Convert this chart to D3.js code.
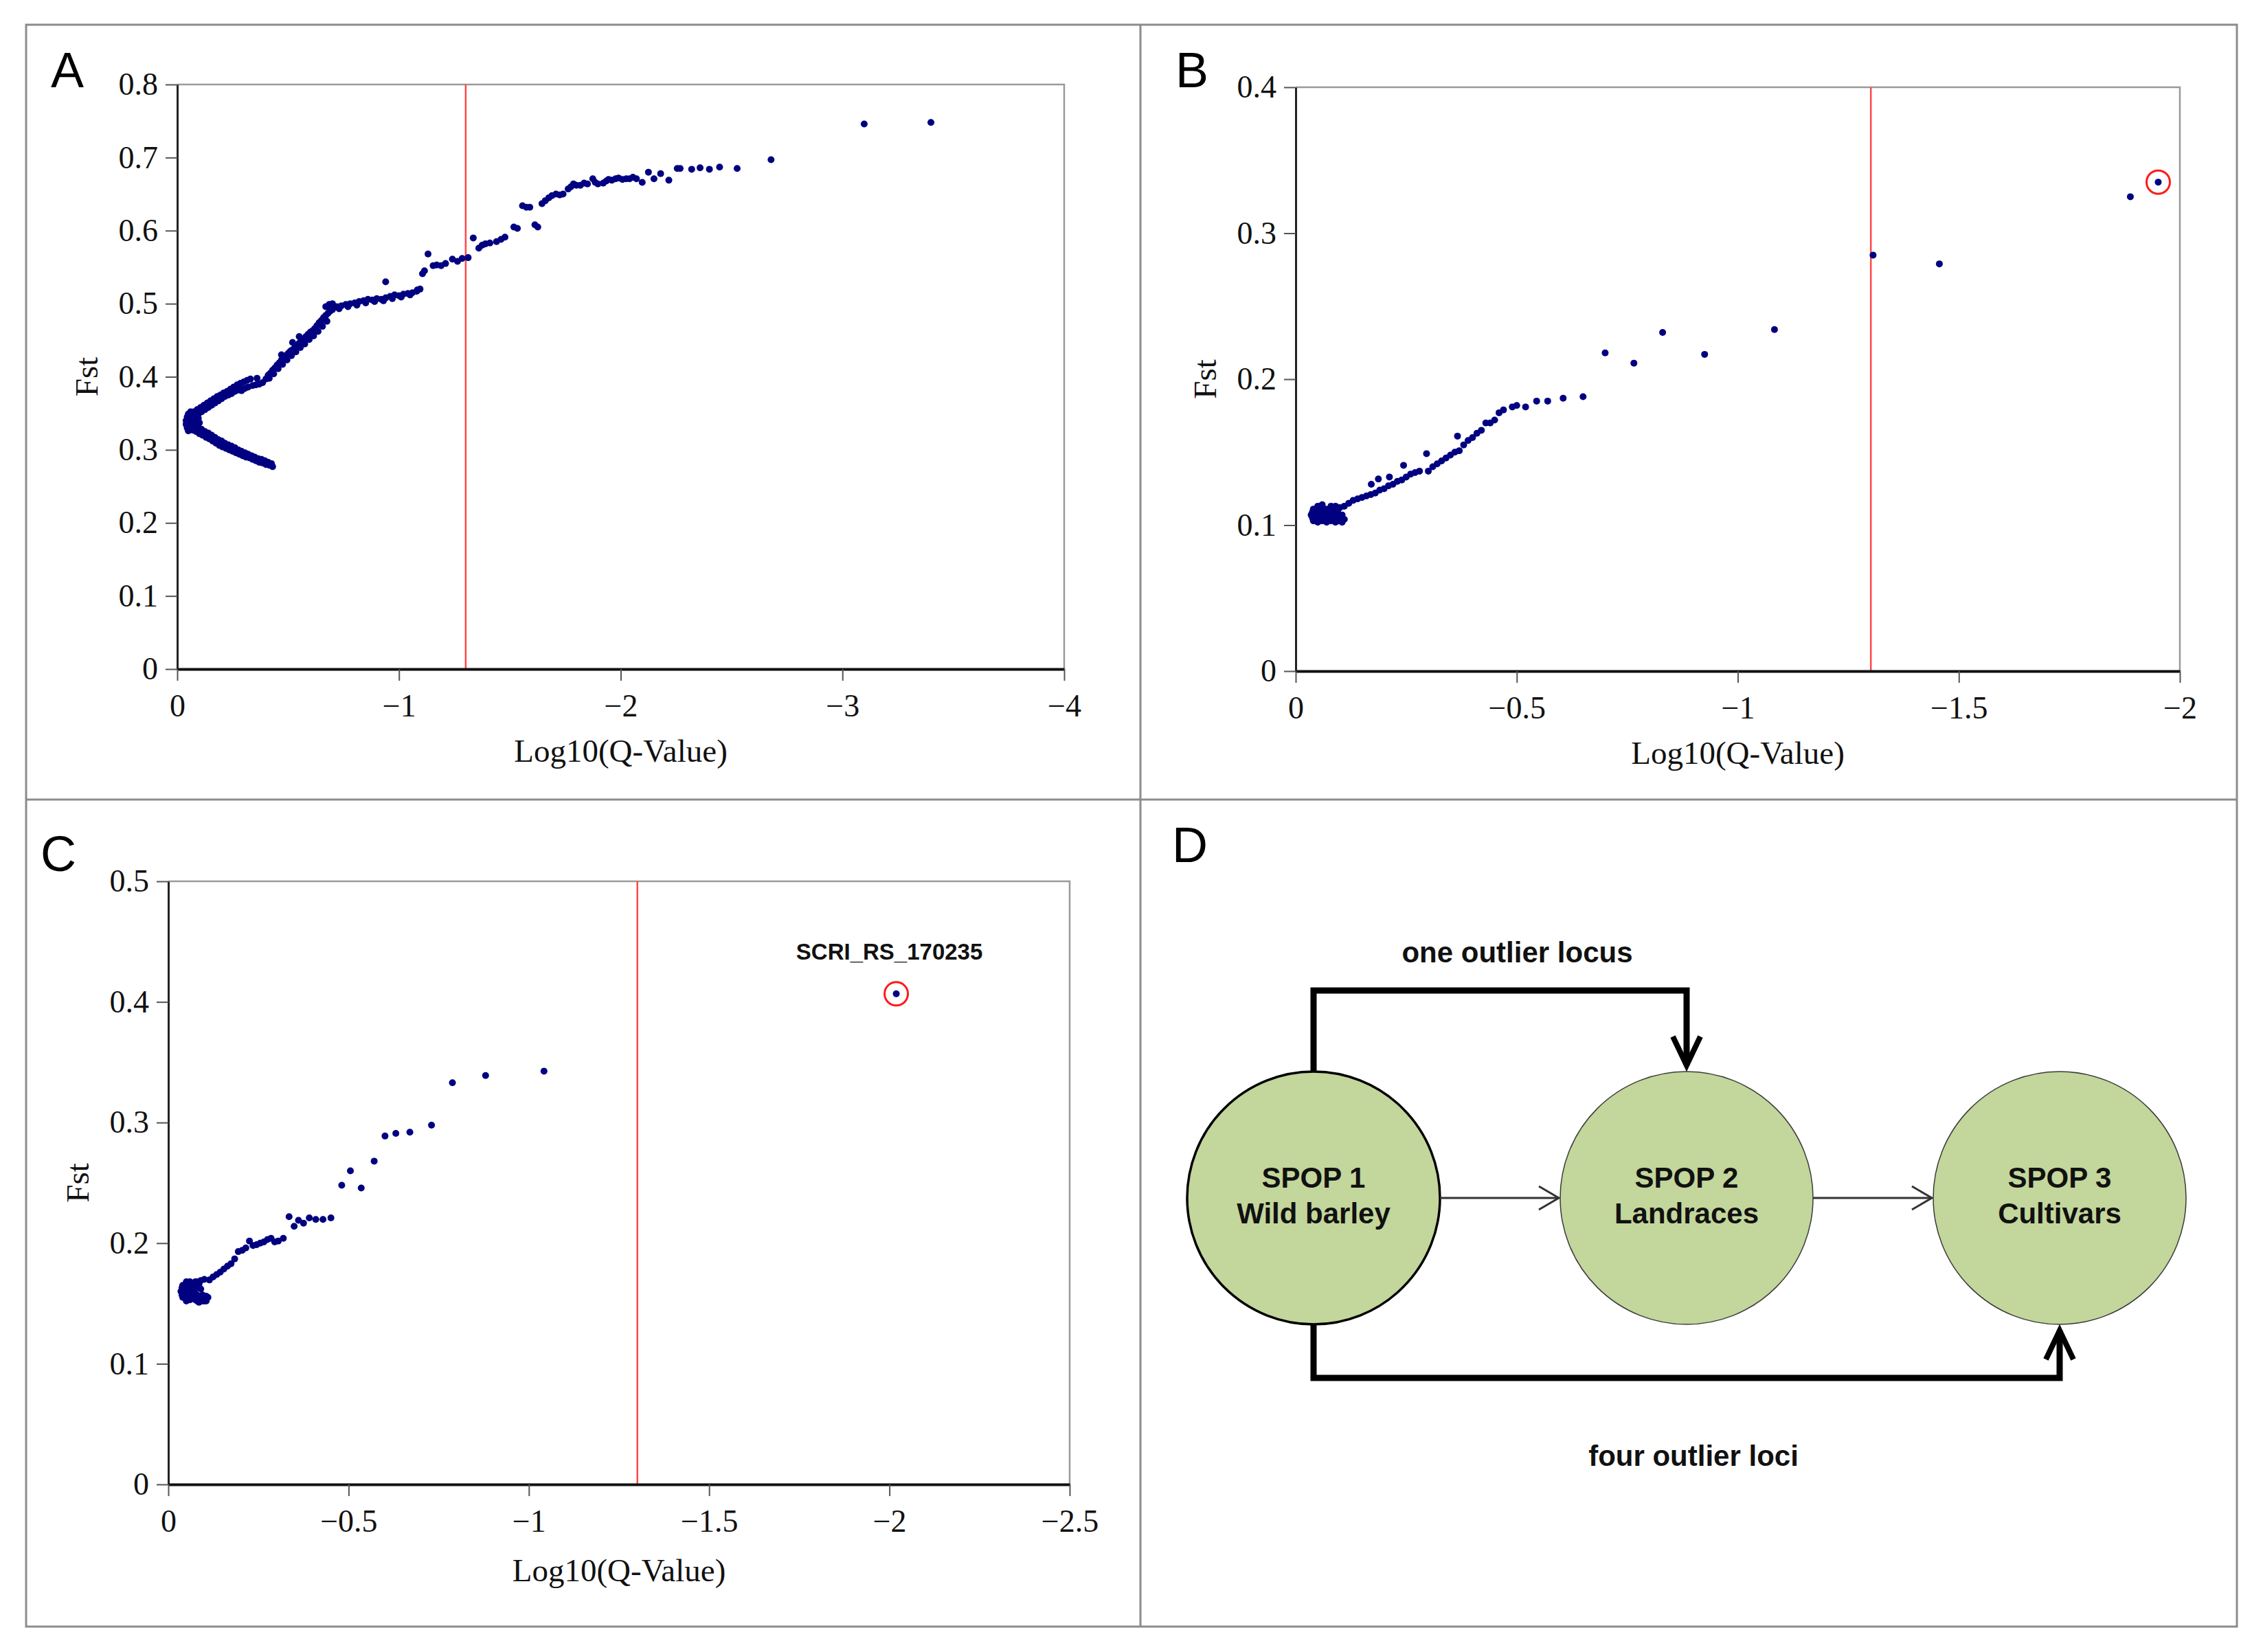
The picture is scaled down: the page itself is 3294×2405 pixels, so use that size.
<!DOCTYPE html>
<html>
<head>
<meta charset="utf-8">
<script src="https://cdn.jsdelivr.net/npm/d3@7"></script>
<style>body{margin:0;background:#fff}</style>
</head>
<body>
<script>
// ---- data: [log10(q), Fst] ----
var ptsA = [
 // lower branch (two rows of the thick band)
 [-0.425,0.281],[-0.41,0.283],[-0.395,0.285],[-0.38,0.287],[-0.365,0.288],[-0.35,0.290],[-0.335,0.292],[-0.32,0.294],[-0.305,0.296],[-0.29,0.298],[-0.275,0.300],[-0.26,0.303],[-0.245,0.305],[-0.23,0.307],[-0.215,0.309],[-0.2,0.312],[-0.185,0.314],[-0.17,0.317],[-0.155,0.320],[-0.14,0.323],[-0.125,0.325],[-0.11,0.328],[-0.095,0.331],[-0.08,0.333],[-0.065,0.336],
 [-0.43,0.277],[-0.415,0.279],[-0.40,0.280],[-0.385,0.282],[-0.37,0.283],[-0.355,0.285],[-0.34,0.287],[-0.325,0.289],[-0.31,0.290],[-0.295,0.292],[-0.28,0.294],[-0.265,0.296],[-0.25,0.298],[-0.235,0.300],[-0.22,0.302],[-0.205,0.304],[-0.19,0.306],[-0.175,0.309],[-0.16,0.312],[-0.145,0.315],[-0.13,0.317],[-0.115,0.320],[-0.10,0.322],[-0.085,0.325],[-0.07,0.327],
 [-0.18,0.311],[-0.15,0.317],[-0.12,0.322],[-0.09,0.328],
 // nose
 [-0.04,0.335],[-0.04,0.340],[-0.045,0.330],[-0.045,0.345],[-0.05,0.326],[-0.05,0.349],[-0.055,0.332],[-0.055,0.338],[-0.055,0.343],[-0.06,0.328],[-0.06,0.352],[-0.065,0.345],[-0.07,0.340],[-0.07,0.334],
 [-0.045,0.337],[-0.05,0.333],[-0.05,0.341],[-0.06,0.336],[-0.06,0.344],[-0.065,0.331],[-0.065,0.350],[-0.075,0.338],[-0.075,0.345],[-0.08,0.331],[-0.085,0.349],[-0.09,0.334],[-0.095,0.343],[-0.08,0.341],[-0.1,0.337],
 // upper branch
 [-0.075,0.352],[-0.09,0.355],[-0.105,0.358],[-0.12,0.361],[-0.135,0.364],[-0.15,0.367],[-0.165,0.370],[-0.18,0.373],[-0.195,0.375],[-0.21,0.378],[-0.225,0.380],[-0.24,0.383],[-0.255,0.386],[-0.27,0.389],[-0.285,0.391],[-0.30,0.393],[-0.315,0.395],[-0.33,0.397],
 [-0.08,0.346],[-0.095,0.349],[-0.11,0.352],[-0.125,0.355],[-0.14,0.358],[-0.155,0.361],[-0.17,0.364],[-0.185,0.367],[-0.20,0.370],[-0.215,0.373],[-0.23,0.375],[-0.245,0.377],[-0.26,0.380],[-0.275,0.382],[-0.29,0.381],[-0.305,0.384],[-0.32,0.386],[-0.34,0.388],[-0.355,0.389],[-0.37,0.390],[-0.385,0.392],
 [-0.36,0.398],[-0.12,0.357],[-0.16,0.365],[-0.2,0.374],[-0.24,0.380],[-0.28,0.386],
 // rise
 [-0.40,0.397],[-0.41,0.402],[-0.42,0.405],[-0.43,0.409],[-0.44,0.412],[-0.45,0.416],[-0.46,0.419],[-0.47,0.423],[-0.48,0.426],[-0.49,0.429],[-0.50,0.432],[-0.51,0.435],[-0.52,0.437],[-0.53,0.440],[-0.54,0.443],[-0.55,0.446],[-0.56,0.449],[-0.57,0.452],[-0.58,0.455],[-0.59,0.458],[-0.60,0.461],[-0.61,0.463],[-0.62,0.466],[-0.63,0.470],[-0.64,0.474],[-0.65,0.477],[-0.66,0.481],[-0.67,0.484],[-0.68,0.487],[-0.69,0.490],[-0.70,0.492],
 [-0.415,0.398],[-0.435,0.404],[-0.455,0.411],[-0.475,0.417],[-0.495,0.423],[-0.515,0.429],[-0.535,0.434],[-0.555,0.440],[-0.575,0.445],[-0.595,0.451],[-0.615,0.456],[-0.635,0.462],[-0.655,0.469],[-0.675,0.476],
 [-0.47,0.430],[-0.52,0.447],[-0.55,0.455],[-0.67,0.496],[-0.685,0.499],[-0.70,0.500],
 // plateau near 0.5
 [-0.72,0.496],[-0.74,0.497],[-0.76,0.499],[-0.78,0.500],[-0.80,0.501],[-0.82,0.503],[-0.84,0.504],[-0.86,0.506],[-0.88,0.505],[-0.90,0.507],[-0.92,0.506],[-0.94,0.508],[-0.96,0.510],[-0.98,0.512],[-1.00,0.511],[-1.02,0.513],[-1.04,0.514],[-1.06,0.515],[-1.08,0.517],[-1.095,0.520],
 [-0.73,0.493],[-0.77,0.496],[-0.81,0.498],[-0.85,0.501],[-0.89,0.503],[-0.93,0.504],[-0.97,0.507],[-1.01,0.509],[-1.05,0.512],[-0.94,0.530],
 // beyond
 [-1.083,0.519],[-1.106,0.541],[-1.131,0.568],[-1.115,0.545],[-1.154,0.552],[-1.17,0.553],[-1.19,0.552],[-1.21,0.555],[-1.241,0.561],[-1.264,0.558],[-1.285,0.562],[-1.312,0.563],[-1.335,0.590],[-1.36,0.576],[-1.375,0.580],[-1.39,0.582],[-1.41,0.583],[-1.44,0.585],[-1.46,0.588],[-1.478,0.591],[-1.518,0.605],[-1.534,0.603],[-1.557,0.634],[-1.575,0.632],[-1.59,0.632],[-1.613,0.608],[-1.626,0.605],[-1.645,0.637],[-1.66,0.641],[-1.676,0.645],[-1.69,0.648],[-1.708,0.650],[-1.725,0.649],[-1.74,0.650],[-1.763,0.657],[-1.775,0.660],[-1.787,0.664],[-1.80,0.662],[-1.818,0.662],[-1.835,0.665],[-1.85,0.664],[-1.874,0.671],[-1.885,0.666],[-1.897,0.664],[-1.921,0.665],[-1.935,0.668],[-1.945,0.670],[-1.96,0.669],[-1.977,0.671],[-1.99,0.672],[-2.008,0.670],[-2.025,0.671],[-2.04,0.671],[-2.055,0.673],[-2.071,0.671],[-2.097,0.666],[-2.125,0.680],[-2.15,0.671],[-2.18,0.678],[-2.217,0.669],[-2.255,0.685],[-2.268,0.685],[-2.32,0.684],[-2.358,0.686],[-2.40,0.684],[-2.446,0.687],[-2.525,0.685],[-2.678,0.697],[-3.098,0.746],[-3.399,0.748]
];
var ptsB = [
 // blob
 [-0.035,0.107],[-0.04,0.103],[-0.04,0.111],[-0.045,0.107],[-0.05,0.102],[-0.05,0.113],[-0.055,0.106],[-0.055,0.110],[-0.06,0.103],[-0.06,0.114],[-0.065,0.108],[-0.07,0.102],[-0.07,0.111],[-0.075,0.105],[-0.08,0.103],[-0.08,0.113],[-0.085,0.108],[-0.09,0.102],[-0.095,0.110],[-0.10,0.103],[-0.105,0.107],[-0.11,0.104],[-0.10,0.112],
 [-0.038,0.105],[-0.038,0.109],[-0.045,0.103],[-0.045,0.111],[-0.05,0.105],[-0.05,0.109],[-0.06,0.107],[-0.06,0.111],[-0.065,0.104],[-0.07,0.106],[-0.075,0.109],[-0.08,0.106],[-0.085,0.104],[-0.085,0.111],[-0.09,0.106],[-0.095,0.103],[-0.1,0.106],[-0.105,0.102],[-0.09,0.113],
 // trail
 [-0.11,0.113],[-0.12,0.115],[-0.13,0.117],[-0.14,0.118],[-0.15,0.119],[-0.16,0.120],[-0.171,0.128],[-0.17,0.121],[-0.18,0.122],[-0.187,0.1316],[-0.19,0.124],[-0.20,0.125],[-0.212,0.133],[-0.21,0.127],[-0.22,0.128],[-0.23,0.130],[-0.244,0.141],[-0.24,0.131],[-0.25,0.133],[-0.26,0.135],[-0.27,0.136],[-0.28,0.137],[-0.296,0.149],[-0.30,0.137],
 [-0.31,0.140],[-0.32,0.142],[-0.33,0.144],[-0.34,0.146],[-0.35,0.148],[-0.36,0.150],[-0.37,0.151],[-0.366,0.161],[-0.38,0.155],[-0.39,0.158],[-0.40,0.160],[-0.41,0.163],[-0.42,0.165],[-0.43,0.170],[-0.44,0.170],[-0.45,0.172],[-0.46,0.177],[-0.47,0.179],[-0.49,0.181],[-0.50,0.182],[-0.52,0.181],[-0.545,0.185],[-0.57,0.185],[-0.605,0.187],[-0.65,0.188],
 [-0.70,0.218],[-0.765,0.211],[-0.83,0.232],[-0.925,0.217],[-1.083,0.234],[-1.306,0.285],[-1.456,0.279],[-1.888,0.325],[-1.951,0.335]
];
var ptsC = [
 // blob
 [-0.035,0.160],[-0.04,0.155],[-0.04,0.165],[-0.045,0.160],[-0.05,0.152],[-0.05,0.168],[-0.055,0.157],[-0.055,0.163],[-0.06,0.153],[-0.06,0.168],[-0.065,0.160],[-0.07,0.154],[-0.07,0.165],[-0.075,0.158],[-0.08,0.152],[-0.08,0.168],[-0.085,0.155],[-0.09,0.162],[-0.095,0.152],[-0.10,0.156],[-0.105,0.152],[-0.11,0.155],[-0.09,0.169],[-0.10,0.170],
 [-0.038,0.157],[-0.038,0.163],[-0.045,0.155],[-0.045,0.165],[-0.05,0.158],[-0.05,0.162],[-0.055,0.153],[-0.06,0.160],[-0.065,0.155],[-0.065,0.165],[-0.07,0.159],[-0.075,0.153],[-0.075,0.168],[-0.08,0.157],[-0.085,0.151],[-0.085,0.166],[-0.095,0.157],[-0.1,0.152],[-0.105,0.156],[-0.08,0.163],
 // trail
 [-0.114,0.1695],[-0.124,0.172],[-0.134,0.174],[-0.144,0.176],[-0.154,0.1785],[-0.164,0.181],[-0.174,0.183],[-0.184,0.187],[-0.194,0.193],[-0.205,0.194],[-0.215,0.196],[-0.225,0.2018],[-0.235,0.198],[-0.245,0.1987],[-0.255,0.200],[-0.265,0.201],[-0.275,0.203],[-0.285,0.204],[-0.295,0.201],[-0.305,0.2018],[-0.319,0.204],
 [-0.335,0.222],[-0.349,0.214],[-0.361,0.219],[-0.375,0.2166],[-0.391,0.221],[-0.409,0.2197],[-0.429,0.2197],[-0.451,0.221],[-0.481,0.248],[-0.505,0.260],[-0.535,0.2457],[-0.571,0.268],[-0.601,0.2888],[-0.631,0.291],[-0.67,0.292],[-0.73,0.2978],[-0.788,0.333],[-0.88,0.339],[-1.042,0.3426],[-2.019,0.4067]
];
var hlB = [[-1.951,0.335]];
var hlC = [[-2.019,0.4067]];
var labelC = 'SCRI_RS_170235';

var xTicksA=[0,-1,-2,-3,-4], yTicksA=[0,0.1,0.2,0.3,0.4,0.5,0.6,0.7,0.8];
var xTicksB=[0,-0.5,-1,-1.5,-2], yTicksB=[0,0.1,0.2,0.3,0.4];
var xTicksC=[0,-0.5,-1,-1.5,-2,-2.5], yTicksC=[0,0.1,0.2,0.3,0.4,0.5];
var qCutoff = -1.301; // log10(0.05)

var popIds = ['SPOP 1','SPOP 2','SPOP 3'];
var popNames = ['Wild barley','Landraces','Cultivars'];
var linkLabels = ['one outlier locus','four outlier loci'];

var W=3294, H=2405;
var serif='"Liberation Serif","Times New Roman",serif', sans='"Liberation Sans",Arial,sans-serif';
var svg=d3.select('body').append('svg').attr('width',W).attr('height',H);

// outer frame and dividers
svg.append('rect').attr('x',38).attr('y',36).attr('width',3218).attr('height',2332)
  .attr('fill','none').attr('stroke','#8c8c8c').attr('stroke-width',3);
svg.append('line').attr('x1',1660).attr('x2',1660).attr('y1',36).attr('y2',2368).attr('stroke','#8c8c8c').attr('stroke-width',3);
svg.append('line').attr('x1',38).attr('x2',3256).attr('y1',1164).attr('y2',1164).attr('stroke','#8c8c8c').attr('stroke-width',3);

var fmt=d3.format('~g');

function scatter(p){
  var x=d3.scaleLinear().domain([0,p.xt[p.xt.length-1]]).range([p.left,p.right]);
  var y=d3.scaleLinear().domain([0,p.yt[p.yt.length-1]]).range([p.bottom,p.top]);
  var g=svg.append('g');
  g.append('path').attr('d','M'+p.left+','+p.top+'H'+p.right+'V'+p.bottom)
    .attr('fill','none').attr('stroke','#9a9a9a').attr('stroke-width',2.5);
  g.append('line').attr('x1',x(qCutoff)).attr('x2',x(qCutoff)).attr('y1',p.top).attr('y2',p.bottom)
    .attr('stroke','#ff4848').attr('stroke-width',2.5);
  g.append('g').selectAll('circle').data(p.pts).join('circle')
    .attr('cx',d=>x(d[0])).attr('cy',d=>y(d[1])).attr('r',5).attr('fill','#000080');
  g.append('g').selectAll('circle').data(p.hl).join('circle')
    .attr('cx',d=>x(d[0])).attr('cy',d=>y(d[1])).attr('r',17).attr('fill','none')
    .attr('stroke','#ff1a1a').attr('stroke-width',3);
  if(p.label){
    g.selectAll('.lab').data(p.hl).join('text').attr('class','lab')
      .attr('x',d=>x(d[0])-10).attr('y',d=>y(d[1])-50).attr('text-anchor','middle')
      .attr('font-family',sans).attr('font-weight','bold').attr('font-size',33).attr('fill','#111')
      .text(p.label);
  }
  var ax=g.append('g').attr('transform','translate(0,'+p.bottom+')')
    .call(d3.axisBottom(x).tickValues(p.xt).tickSize(17).tickSizeOuter(0).tickPadding(19).tickFormat(fmt));
  var ay=g.append('g').attr('transform','translate('+p.left+',0)')
    .call(d3.axisLeft(y).tickValues(p.yt).tickSize(17).tickSizeOuter(0).tickPadding(11).tickFormat(fmt));
  [ax,ay].forEach(function(a){
    a.attr('font-family',serif).attr('font-size',46).attr('color','#111');
    a.selectAll('.tick line').attr('stroke','#555').attr('stroke-width',2);
  });
  ax.select('.domain').attr('stroke','#111').attr('stroke-width',4);
  ay.select('.domain').attr('stroke','#222').attr('stroke-width',3);
  g.append('text').attr('x',(p.left+p.right)/2).attr('y',p.bottom+p.titleGap).attr('text-anchor','middle')
    .attr('font-family',serif).attr('font-size',47).attr('fill','#111').text('Log10(Q-Value)');
  g.append('text').attr('transform','translate('+(p.left-132)+','+((p.top+p.bottom)/2)+') rotate(-90)')
    .attr('dy','0.35em').attr('text-anchor','middle')
    .attr('font-family',serif).attr('font-size',47).attr('fill','#111').text('Fst');
  svg.append('text').attr('x',p.lx).attr('y',p.ly).attr('font-family',sans).attr('font-size',72)
    .attr('fill','#000').text(p.letter);
}

scatter({letter:'A',lx:74,ly:127,left:258,right:1549,top:123,bottom:974,titleGap:135,pts:ptsA,hl:[],xt:xTicksA,yt:yTicksA});
scatter({letter:'B',lx:1711,ly:127,left:1886,right:3173,top:127,bottom:977,titleGap:135,pts:ptsB,hl:hlB,xt:xTicksB,yt:yTicksB});
scatter({letter:'C',lx:59,ly:1268,left:245,right:1557,top:1283,bottom:2161,titleGap:141,pts:ptsC,hl:hlC,label:labelC,xt:xTicksC,yt:yTicksC});

// ---- panel D: flow diagram ----
svg.append('text').attr('x',1706).attr('y',1255).attr('font-family',sans).attr('font-size',72).attr('fill','#000').text('D');
var px=d3.scalePoint().domain(popIds).range([1912,2998]);
var cy=1744, r=184, topY=1442, botY=2006;
var x1=px(popIds[0]), x2=px(popIds[1]), x3=px(popIds[2]);

var nodes=svg.append('g').selectAll('g').data(popIds).join('g');
nodes.append('circle').attr('cx',d=>px(d)).attr('cy',cy).attr('r',r).attr('fill','#c3d69b')
  .attr('stroke',(d,i)=>i===0?'#000':'#3a3a3a').attr('stroke-width',(d,i)=>i===0?3.5:1.5);
nodes.append('text').attr('x',d=>px(d)).attr('y',cy-15).attr('text-anchor','middle')
  .attr('font-family',sans).attr('font-weight','bold').attr('font-size',42).attr('fill','#111').text(d=>d);
nodes.append('text').attr('x',d=>px(d)).attr('y',cy+37).attr('text-anchor','middle')
  .attr('font-family',sans).attr('font-weight','bold').attr('font-size',42).attr('fill','#111')
  .text((d,i)=>popNames[i]);

// thin arrows between neighbours
[[x1,x2],[x2,x3]].forEach(function(s){
  var tip=s[1]-r-2;
  svg.append('line').attr('x1',s[0]+r).attr('x2',tip).attr('y1',cy).attr('y2',cy).attr('stroke','#333').attr('stroke-width',3);
  svg.append('path').attr('d','M'+(tip-29)+','+(cy-17)+'L'+tip+','+cy+'L'+(tip-29)+','+(cy+17))
    .attr('fill','none').attr('stroke','#333').attr('stroke-width',3);
});

// thick connectors
var tipA=cy-r-9, tipB=cy+r+9;
svg.append('path').attr('d','M'+x1+','+(cy-r)+'V'+topY+'H'+x2+'V'+tipA)
  .attr('fill','none').attr('stroke','#000').attr('stroke-width',9);
svg.append('path').attr('d','M'+(x2-20)+','+(tipA-42)+'L'+x2+','+tipA+'L'+(x2+20)+','+(tipA-42))
  .attr('fill','none').attr('stroke','#000').attr('stroke-width',8);
svg.append('path').attr('d','M'+x1+','+(cy+r)+'V'+botY+'H'+x3+'V'+tipB)
  .attr('fill','none').attr('stroke','#000').attr('stroke-width',9);
svg.append('path').attr('d','M'+(x3-20)+','+(tipB+42)+'L'+x3+','+tipB+'L'+(x3+20)+','+(tipB+42))
  .attr('fill','none').attr('stroke','#000').attr('stroke-width',8);

svg.append('text').attr('x',(x1+x2)/2+25).attr('y',1401).attr('text-anchor','middle')
  .attr('font-family',sans).attr('font-weight','bold').attr('font-size',42).attr('fill','#111').text(linkLabels[0]);
svg.append('text').attr('x',(x1+x3)/2+10).attr('y',2134).attr('text-anchor','middle')
  .attr('font-family',sans).attr('font-weight','bold').attr('font-size',42).attr('fill','#111').text(linkLabels[1]);
</script>
</body>
</html>
